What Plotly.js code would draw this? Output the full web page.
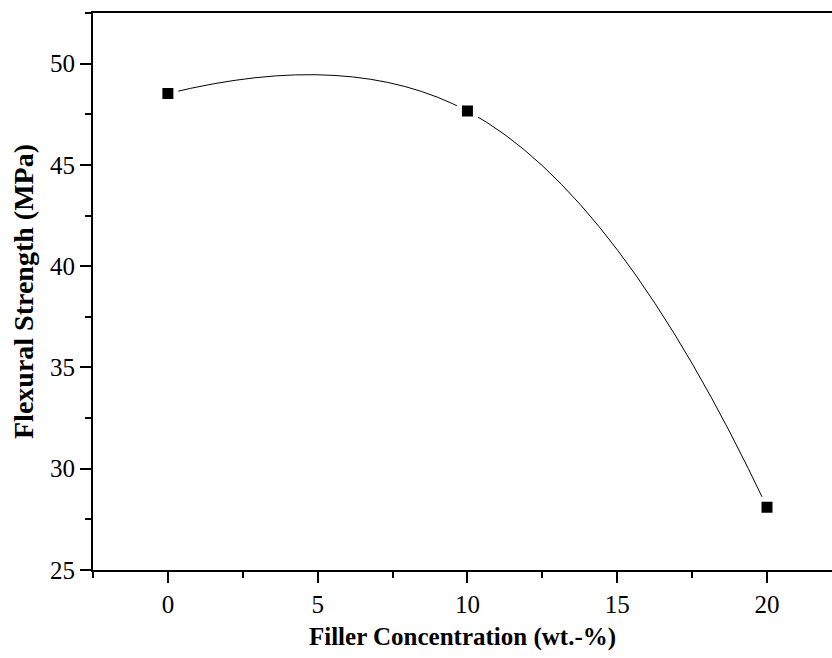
<!DOCTYPE html>
<html>
<head>
<meta charset="utf-8">
<script src="https://cdn.plot.ly/plotly-3.0.1.min.js"></script>
<style>html,body{margin:0;padding:0;background:#fff;}#chart{width:832px;height:658px;}</style>
</head>
<body>
<div id="chart"></div>
<script>
const fillerConcentration = [0, 10, 20];
const flexuralStrength = [48.52, 47.66, 28.1];
const xTickValues = [0, 5, 10, 15, 20];
const yTickValues = [25, 30, 35, 40, 45, 50];

const fontFamily = 'Liberation Serif, Times New Roman, DejaVu Serif, serif';

const trace = {
  x: fillerConcentration,
  y: flexuralStrength,
  type: 'scatter',
  mode: 'lines+markers',
  line: {color: '#000', width: 1, shape: 'spline', smoothing: 1.3},
  marker: {symbol: 'square', size: 16, color: '#000', line: {color: '#fff', width: 5}},
  hoverinfo: 'x+y',
  showlegend: false
};

const layout = {
  width: 832,
  height: 658,
  margin: {l: 93, r: 0, t: 13, b: 87.5, pad: 0},
  paper_bgcolor: '#fff',
  plot_bgcolor: '#fff',
  showlegend: false,
  font: {family: fontFamily, color: '#000'},
  xaxis: {
    range: [-2.5, 22.17],
    tickmode: 'array',
    tickvals: xTickValues,
    ticktext: xTickValues.map(String),
    ticks: 'outside',
    ticklen: 11,
    tickwidth: 2,
    tickcolor: '#000',
    minor: {dtick: 2.5, tick0: 0, ticks: 'outside', ticklen: 6, tickwidth: 2, tickcolor: '#000', showgrid: false},
    showline: true,
    linewidth: 2,
    linecolor: '#000',
    mirror: true,
    showgrid: false,
    zeroline: false,
    tickfont: {family: fontFamily, size: 25, color: '#000'},
    title: {text: '<b>Filler Concentration (wt.-%)</b>', font: {family: fontFamily, size: 25, color: '#000'}, standoff: 10}
  },
  yaxis: {
    range: [25, 52.5],
    tickmode: 'array',
    tickvals: yTickValues,
    ticktext: yTickValues.map(String),
    ticks: 'outside',
    ticklen: 11,
    tickwidth: 2,
    tickcolor: '#000',
    minor: {dtick: 2.5, tick0: 25, ticks: 'outside', ticklen: 6, tickwidth: 2, tickcolor: '#000', showgrid: false},
    showline: true,
    linewidth: 2,
    linecolor: '#000',
    mirror: false,
    showgrid: false,
    zeroline: false,
    tickfont: {family: fontFamily, size: 25, color: '#000'},
    title: {text: '<b>Flexural Strength (MPa)</b>', font: {family: fontFamily, size: 28, color: '#000'}, standoff: 8}
  }
};

Plotly.newPlot('chart', [trace], layout, {displayModeBar: false, staticPlot: true});
</script>
</body>
</html>
